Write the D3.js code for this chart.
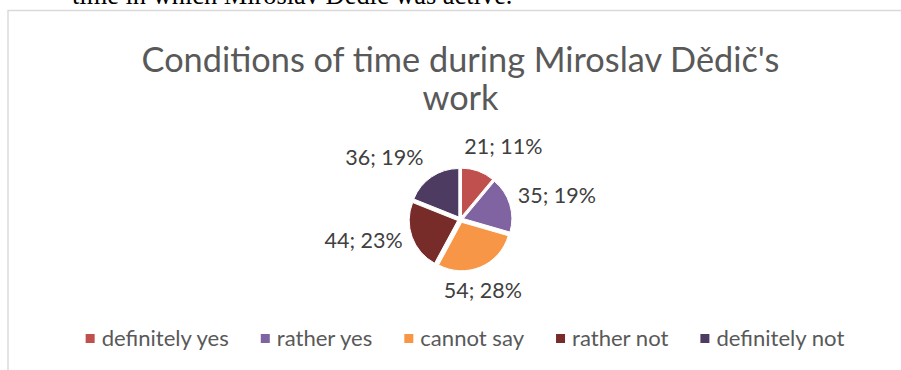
<!DOCTYPE html>
<html><head><meta charset="utf-8">
<script src="https://cdn.jsdelivr.net/npm/d3@7"></script>
<style>body{margin:0;background:#fff}svg{display:block}</style>
</head><body><svg id="c" width="901" height="370"></svg>
<script>
// ---- data ----
const categories = ["definitely yes", "rather yes", "cannot say", "rather not", "definitely not"];
const values = [21, 35, 54, 44, 36];
const percentLabels = ["11%", "19%", "28%", "23%", "19%"];
const colors = ["#C0504D", "#8064A2", "#F79646", "#772C2A", "#4D3B62"];
const titleLines = ["Conditions of time during Miroslav Dědič's", "work"];
const captionText = "time in which Miroslav Dědič was active.";

// ---- layout ----
const W = 901, H = 370;
const cx = 460.5, cy = 219.5, R = 48.5, explode = 3;
const labelNudge = [[10, -12], [4, -5], [-15, 10], [-6, -2], [-22, -8]];
const textFont = "Lato, 'Open Sans', sans-serif";

const svg = d3.select("#c");

function fitWidth(sel, target) {
  const w = sel.node().getComputedTextLength();
  const fs = parseFloat(sel.attr("font-size"));
  sel.attr("font-size", fs * target / w);
}

// caption text from the document above the chart
const cap = svg.append("text").attr("x", 72).attr("y", 4)
  .attr("font-family", "'Liberation Serif', 'Times New Roman', serif")
  .attr("font-size", 26.4).attr("fill", "#000").text(captionText);

// chart border (left + top visible)
svg.append("path").attr("d", `M8,${H} V10.5 H${W}`)
  .attr("fill", "none").attr("stroke", "#D9D9D9").attr("stroke-width", 1.4);

// title
const t1 = svg.append("text").attr("x", cx).attr("y", 72).attr("text-anchor", "middle")
  .attr("font-family", textFont).attr("font-size", 34).attr("fill", "#595959").text(titleLines[0]);
fitWidth(t1, 638);
const tfs = parseFloat(t1.attr("font-size"));
svg.append("text").attr("x", cx).attr("y", 110).attr("text-anchor", "middle")
  .attr("font-family", textFont).attr("font-size", tfs).attr("fill", "#595959").text(titleLines[1]);

// pie
const pie = d3.pie().sort(null).value(d => d)(values);
const arc = d3.arc().innerRadius(0).outerRadius(R);
const g = svg.append("g").attr("transform", `translate(${cx},${cy})`);
g.selectAll("path.slice").data(pie).join("path").attr("class", "slice")
  .attr("d", arc)
  .attr("fill", (d, i) => colors[i])
  .attr("stroke", "#fff").attr("stroke-width", 1)
  .attr("transform", d => {
    const a = (d.startAngle + d.endAngle) / 2;
    return `translate(${Math.sin(a) * explode},${-Math.cos(a) * explode})`;
  });

// data labels
const labelFs = 21.5;
const lbl = g.selectAll("text.lbl").data(pie).join("text").attr("class", "lbl")
  .attr("font-family", textFont).attr("font-size", labelFs).attr("fill", "#404040")
  .attr("text-anchor", "middle").attr("dy", "0.36em")
  .text((d, i) => `${values[i]}; ${percentLabels[i]}`);
lbl.each(function (d, i) {
  const w = this.getComputedTextLength();
  const a = (d.startAngle + d.endAngle) / 2;
  const base = R + explode + 6;
  const rx = base + w / 2, ry = base + labelFs * 0.37;
  d3.select(this).attr("x", Math.sin(a) * rx + labelNudge[i][0])
    .attr("y", -Math.cos(a) * ry + labelNudge[i][1]);
});

// legend
const legFsInit = 22;
const legY = 338, mk = 9, mkGap = 7, itemGap = 32;
const leg = svg.append("g");
const items = leg.selectAll("g").data(categories).join("g");
const legTexts = items.append("text").attr("font-family", textFont)
  .attr("font-size", legFsInit).attr("fill", "#595959").attr("dy", "0.36em").attr("y", legY)
  .text(d => d);
fitWidth(d3.select(legTexts.nodes()[4]), 128);
const legFs = parseFloat(d3.select(legTexts.nodes()[4]).attr("font-size"));
legTexts.attr("font-size", legFs);
const widths = legTexts.nodes().map(n => n.getComputedTextLength());
const total = d3.sum(widths) + categories.length * (mk + mkGap) + itemGap * (categories.length - 1);
let x = 465 - total / 2;
items.each(function (d, i) {
  const it = d3.select(this);
  it.insert("rect", "text").attr("x", x).attr("y", legY - mk / 2 + 0.5).attr("width", mk).attr("height", mk)
    .attr("fill", colors[i]);
  it.select("text").attr("x", x + mk + mkGap);
  x += mk + mkGap + widths[i] + itemGap;
});
</script></body></html>
